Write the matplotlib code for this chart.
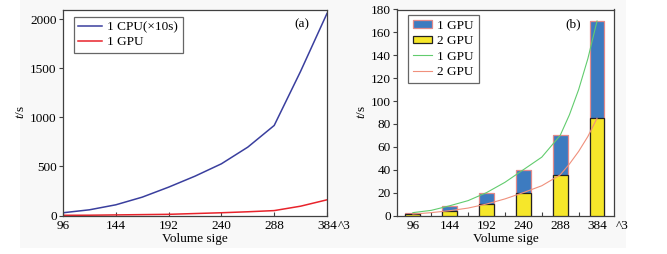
import matplotlib
matplotlib.use("Agg")
import matplotlib.pyplot as plt
from matplotlib.patches import Patch, Rectangle
from matplotlib.lines import Line2D

# ---------------- data ----------------
categories = ["96", "144", "192", "240", "288", "384"]

# panel (a): values read at category index (incl. half steps)
a_x = [0, 0.5, 1, 1.5, 2, 2.5, 3, 3.5, 4, 4.5, 5]
cpu_10s = [28, 58, 109, 187, 289, 401, 527, 697, 918, 1470, 2060]
gpu_a = [2, 3, 6, 9, 12, 20, 28, 38, 50, 95, 160]
a_yticks = [0, 500, 1000, 1500, 2000]

# panel (b)
gpu1_bar = [2.5, 8.5, 20, 40, 70, 170]
gpu2_bar = [1.2, 4.2, 10, 20, 35.5, 85]
b_x = [0, 0.5, 1, 1.5, 2, 2.5, 3, 3.5, 4, 4.25, 4.5, 4.75, 5]
gpu1_line = [2.5, 4.5, 8.5, 13, 20, 29, 40, 51, 70, 88, 110, 137, 170]
gpu2_line = [1.2, 2.5, 4.2, 6.5, 10, 14.5, 20, 26, 35.5, 45, 56, 69, 85]
b_yticks = [0, 20, 40, 60, 80, 100, 120, 140, 160, 180]

# ---------------- style ----------------
plt.rcParams["font.family"] = ["Liberation Serif", "DejaVu Serif"]
plt.rcParams["mathtext.fontset"] = "custom"
plt.rcParams["mathtext.it"] = "Liberation Serif:italic"
plt.rcParams["mathtext.rm"] = "Liberation Serif"
FS = 9.5
spine_c = "#404040"

fig = plt.figure(figsize=(6.67, 2.54), dpi=100)
fig.patch.set_facecolor("white")
fig.add_artist(Rectangle((20 / 667, 1 - 248 / 254), 606 / 667, 248 / 254,
                         transform=fig.transFigure, facecolor="#f8f8f8",
                         edgecolor="none", zorder=-10))

bot = 1 - 215.5 / 254
top = 1 - 9.5 / 254
ax1 = fig.add_axes([63 / 667, bot, (327 - 63) / 667, top - bot])
ax2 = fig.add_axes([397 / 667, bot, (614 - 397) / 667, top - bot])

for ax in (ax1, ax2):
    for s in ax.spines.values():
        s.set_color(spine_c)
        s.set_linewidth(0.9)
    ax.tick_params(axis="y", direction="out", length=3, width=0.8,
                   color=spine_c, labelsize=FS, pad=1.5)
    ax.tick_params(axis="x", direction="in", length=3, width=0.8,
                   color=spine_c, labelsize=FS, pad=3)

# ---------------- panel (a) ----------------
ax1.plot(a_x, cpu_10s, color="#3a3f9e", lw=1.1, label="1 CPU(×10s)")
ax1.plot(a_x, gpu_a, color="#e8232b", lw=1.1, label="1 GPU")
ax1.set_xlim(0, 5)
ax1.set_ylim(0, 2100)
ax1.set_xticks(range(len(categories)))
ax1.set_xticklabels(categories)
ax1.set_yticks(a_yticks)
ax1.set_xlabel("Volume sige", fontsize=FS, labelpad=1)
ax1.set_ylabel(r"$t$/s", fontsize=FS, labelpad=2)
ax1.text(0.905, 0.93, "(a)", transform=ax1.transAxes, fontsize=FS,
         ha="center", va="center")
ax1.annotate("^3", xy=(1.0, 0), xycoords="axes fraction",
             xytext=(7.5, -3), textcoords="offset points",
             fontsize=FS, ha="left", va="top")
leg1 = ax1.legend(loc="upper left", bbox_to_anchor=(0.04, 0.965),
                  fontsize=FS, frameon=True, fancybox=False,
                  edgecolor=spine_c, handlelength=1.8, handletextpad=0.4,
                  borderpad=0.35, labelspacing=0.2, borderaxespad=0)
leg1.get_frame().set_linewidth(0.9)

# ---------------- panel (b) ----------------
xs = list(range(len(categories)))
ax2.bar(xs, gpu1_bar, width=0.4, color="#3d7bc0", edgecolor="#e28a8a",
        linewidth=0.9, zorder=2)
ax2.bar(xs, gpu2_bar, width=0.4, color="#f6e72a", edgecolor="#222222",
        linewidth=0.9, zorder=3)
ax2.plot(b_x, gpu1_line, color="#62cc6e", lw=0.8, zorder=4)
ax2.plot(b_x, gpu2_line, color="#f0907c", lw=0.8, zorder=4)
ax2.set_xlim(-0.43, 5.46)
ax2.set_ylim(0, 180)
ax2.set_xticks(xs)
ax2.set_xticklabels(categories)
ax2.tick_params(axis="x", which="major", length=0)
ax2.set_xticks([0.5, 1.5, 2.5, 3.5, 4.5], minor=True)
ax2.tick_params(axis="x", which="minor", direction="in", length=3,
                width=0.8, color=spine_c)
ax2.set_yticks(b_yticks)
ax2.set_xlabel("Volume sige", fontsize=FS, labelpad=1)
ax2.set_ylabel(r"$t$/s", fontsize=FS, labelpad=2)
ax2.text(0.81, 0.93, "(b)", transform=ax2.transAxes, fontsize=FS,
         ha="center", va="center")
ax2.annotate("^3", xy=(1.0, 0), xycoords="axes fraction",
             xytext=(1, -3), textcoords="offset points",
             fontsize=FS, ha="left", va="top")
handles = [
    Patch(facecolor="#3d7bc0", edgecolor="#e28a8a", linewidth=0.9),
    Patch(facecolor="#f6e72a", edgecolor="#222222", linewidth=0.9),
    Line2D([], [], color="#62cc6e", lw=0.8),
    Line2D([], [], color="#f0907c", lw=0.8),
]
leg2 = ax2.legend(handles, ["1 GPU", "2 GPU", "1 GPU", "2 GPU"],
                  loc="upper left", bbox_to_anchor=(0.05, 0.975),
                  fontsize=FS, frameon=True, fancybox=False,
                  edgecolor=spine_c, handlelength=1.4, handleheight=0.5,
                  handletextpad=0.4, borderpad=0.4, labelspacing=0.25,
                  borderaxespad=0)
leg2.get_frame().set_linewidth(0.9)

fig.savefig("out.png", dpi=100, facecolor="white")
